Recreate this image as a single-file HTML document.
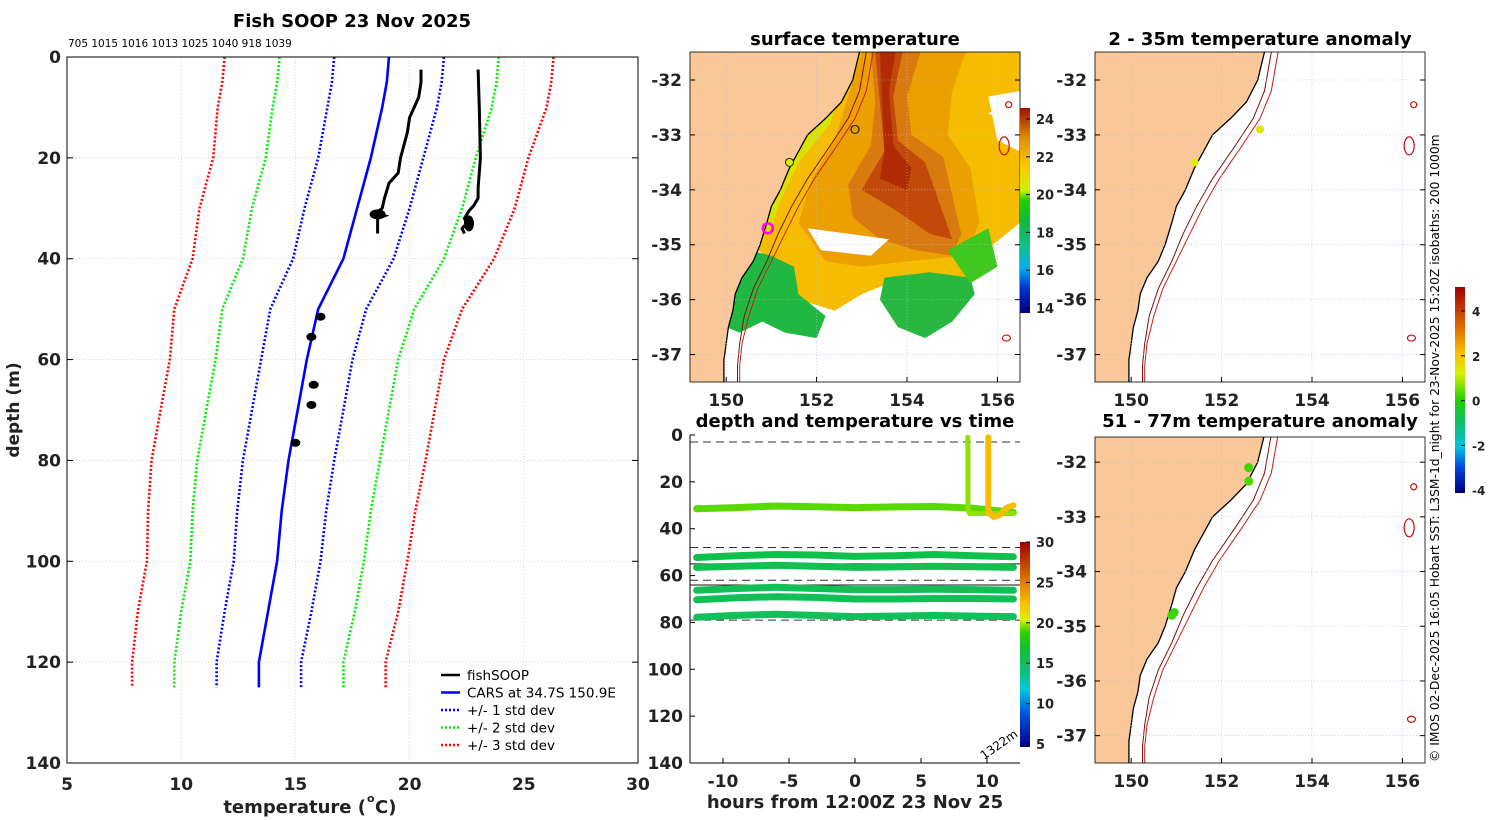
<!DOCTYPE html>
<html><head><meta charset="utf-8"><style>
html,body{margin:0;padding:0;background:#fff;}
svg{display:block;font-family:"DejaVu Sans","Liberation Sans",sans-serif;}
</style></head><body>
<svg id="fig" width="1500" height="820" viewBox="0 0 1500 820" xmlns="http://www.w3.org/2000/svg">
<defs>
<linearGradient id="gSST" x1="0" y1="1" x2="0" y2="0">
<stop offset="0" stop-color="#00007a"/><stop offset="0.12" stop-color="#0030d0"/><stop offset="0.22" stop-color="#00b0f0"/><stop offset="0.32" stop-color="#10c090"/><stop offset="0.45" stop-color="#10b840"/><stop offset="0.55" stop-color="#20d000"/><stop offset="0.6" stop-color="#d0f000"/><stop offset="0.72" stop-color="#f8c800"/><stop offset="0.85" stop-color="#e09000"/><stop offset="1" stop-color="#a01000"/>
</linearGradient>
<linearGradient id="gDT" x1="0" y1="1" x2="0" y2="0">
<stop offset="0" stop-color="#00008a"/><stop offset="0.16" stop-color="#0050e0"/><stop offset="0.28" stop-color="#00c8e0"/><stop offset="0.36" stop-color="#10c080"/><stop offset="0.48" stop-color="#10c030"/><stop offset="0.56" stop-color="#30d000"/><stop offset="0.62" stop-color="#d8f000"/><stop offset="0.7" stop-color="#f8c000"/><stop offset="0.8" stop-color="#e08000"/><stop offset="0.9" stop-color="#c04000"/><stop offset="1" stop-color="#a00000"/>
</linearGradient>
<linearGradient id="gAN" x1="0" y1="1" x2="0" y2="0">
<stop offset="0" stop-color="#00007a"/><stop offset="0.12" stop-color="#0040e0"/><stop offset="0.22" stop-color="#00c0e0"/><stop offset="0.35" stop-color="#10c060"/><stop offset="0.45" stop-color="#20d000"/><stop offset="0.58" stop-color="#d8f000"/><stop offset="0.68" stop-color="#f8c000"/><stop offset="0.8" stop-color="#e07000"/><stop offset="1" stop-color="#a00000"/>
</linearGradient>
</defs>
</svg>
<script>
// ---------- Left profile chart data ----------
const profDepth = [0,5,10,20,30,40,50,60,70,80,90,100,110,120,125];
const carsMean  = [19.1,19.0,18.8,18.3,17.7,17.1,16.0,15.5,15.1,14.7,14.4,14.2,13.8,13.4,13.4];
const carsStd   = [2.4,2.4,2.4,2.3,2.3,2.2,2.1,2.0,2.0,2.0,1.95,1.9,1.9,1.85,1.85];
const fish1Depth = [2.5,5,8,12,15,20,23,25,28,30,31,31.5,32,33,35];
const fish1Temp  = [20.5,20.5,20.4,20.0,19.9,19.6,19.5,19.1,18.9,18.8,18.5,18.9,18.6,18.6,18.6];
const fish2Depth = [2.5,10,20,26,28,29.5,30.5,32,33,34,35];
const fish2Temp  = [23.0,23.05,23.1,23.0,23.0,22.8,22.6,22.4,22.5,22.3,22.4];
const blobDepth = [51.5,55.5,65,69,76.5];
const blobTemp  = [16.1,15.7,15.8,15.7,15.0];
const xTicksL = [5,10,15,20,25,30];
const yTicksL = [0,20,40,60,80,100,120,140];
const serialLabels = "705 1015 1016 1013 1025 1040 918 1039";

// ---------- Time chart data ----------
const tHours = [-12,-9,-6,-3,0,3,6,9,12];
const trackDepths = [
  [31.5,31,30.3,30.6,31,30.7,30.5,31.3,33],
  [52.3,51.5,51,51.2,51.8,51.5,51,51.5,52],
  [56.5,56,55.6,56,56.5,56.3,56,56.2,56.5],
  [66.3,65.5,65,65.5,66,66,65.8,66,66.3],
  [70.3,69.5,69,69.3,70,70,69.8,69.8,70],
  [77.8,77,76.5,77,77.5,77.3,77,77.3,77.5]
];
const trackTemps = [19.3,16.4,16.2,16.0,15.9,15.8];
const spike1Hours = [8.55,8.55,8.7,12];
const spike1Depth = [1,32,33.5,33.5];
const spike2Hours = [10.1,10.1,10.5,11,11.5,12];
const spike2Depth = [1,33,35,34,31,30];
const spikeTemps = [19.8,22.6];
const dashDepths = [3,48,62,79];
const solidDepths = [55,64];
const xTicksT = [-10,-5,0,5,10];
const yTicksT = [0,20,40,60,80,100,120,140];

// ---------- Maps data ----------
const coastLon = [152.95,152.8,152.55,152.2,151.8,151.6,151.4,151.2,151.0,150.9,150.75,150.6,150.35,150.2,150.15,150.05,150.0,149.95,149.95];
const coastLat = [-31.49,-32.0,-32.4,-32.7,-33.0,-33.3,-33.6,-34.0,-34.3,-34.6,-35.0,-35.3,-35.6,-35.9,-36.2,-36.5,-36.8,-37.1,-37.5];
const iso200Lon = [153.1,152.95,152.7,152.3,151.8,151.45,151.15,150.9,150.6,150.4,150.3,150.25,150.25];
const iso1000Lon = [153.25,153.1,152.85,152.45,151.95,151.6,151.3,151.0,150.7,150.5,150.35,150.3,150.3];
const isoLat = [-31.49,-32.2,-32.7,-33.2,-33.8,-34.3,-34.8,-35.3,-35.8,-36.3,-36.8,-37.2,-37.5];
const lonTicks = [150,152,154,156];
const latTicks = [-32,-33,-34,-35,-36,-37];
const topDotsLon = [151.4,152.85];
const topDotsLat = [-33.5,-32.9];
const topDotsAnom = [1.2,1.4];
const botDotsLon = [152.6,152.6,150.95,150.9];
const botDotsLat = [-32.1,-32.35,-34.75,-34.8];
const botDotsAnom = [0.2,0.3,0.1,0.2];

const NS='http://www.w3.org/2000/svg';
const svg=document.getElementById('fig');
function mk(tag,at,parent){const e=document.createElementNS(NS,tag);for(const k in at)e.setAttribute(k,at[k]);(parent||svg).appendChild(e);return e;}
function txt(s,x,y,size,opts,parent){const e=mk('text',Object.assign({x:x,y:y,'font-size':size,fill:'#222'},opts||{}),parent);e.textContent=s;return e;}
function lerpColor(stops,v){for(let i=0;i<stops.length-1;i++){if(v<=stops[i+1][0]){const f=(v-stops[i][0])/(stops[i+1][0]-stops[i][0]);const a=stops[i][1],b=stops[i+1][1];const c=[0,1,2].map(j=>Math.round(a[j]+(b[j]-a[j])*Math.max(0,Math.min(1,f))));return 'rgb('+c.join(',')+')';}}return 'rgb('+stops[stops.length-1][1].join(',')+')';}
const dtStops=[[5,[0,0,138]],[9,[0,80,224]],[12,[0,200,224]],[14,[16,192,128]],[17,[16,192,64]],[19,[60,210,0]],[20.5,[216,240,0]],[22.5,[248,192,0]],[25,[224,128,0]],[30,[160,0,0]]];
const anStops=[[-4,[0,0,122]],[-2,[0,192,224]],[0,[32,208,0]],[1.2,[216,240,0]],[2,[248,192,0]],[5,[160,0,0]]];

// ===== LEFT PANEL =====
const L={x0:67,y0:57,x1:638,y1:763};
const xL=t=>L.x0+(t-5)*(L.x1-L.x0)/25;
const yL=d=>L.y0+d*(L.y1-L.y0)/140;
const gL=mk('g',{});


xTicksL.forEach(t=>{const g=mk('line',{x1:xL(t),x2:xL(t),y1:L.y0,y2:L.y1,stroke:'#c8c8e0','stroke-width':0.7,'stroke-dasharray':'1,2'},gL);


const l=txt(t,xL(t),790,17,{'text-anchor':'middle','font-weight':'bold'},gL);

});
yTicksL.forEach(d=>{const g=mk('line',{x1:L.x0,x2:L.x1,y1:yL(d),y2:yL(d),stroke:'#d0c0c0','stroke-width':0.7,'stroke-dasharray':'1,2'},gL);


mk('line',{x1:L.x0,x2:L.x0+6,y1:yL(d),y2:yL(d),stroke:'#000'},gL);
mk('line',{x1:L.x1,x2:L.x1-6,y1:yL(d),y2:yL(d),stroke:'#000'},gL);
const l=txt(d,61,yL(d)+6,17,{'text-anchor':'end','font-weight':'bold'},gL);

});
function pathFrom(xs,ys){return xs.map((x,i)=>(i?'L':'M')+x.toFixed(1)+','+ys[i].toFixed(1)).join('');}
const stdCols=[['#0000ff',1],['#00ee00',2],['#ff0000',3]];
stdCols.forEach(([c,k])=>{[-1,1].forEach(s=>{const p=mk('path',{d:pathFrom(profDepth.map((d,i)=>xL(carsMean[i]+s*k*carsStd[i])),profDepth.map(yL)),fill:'none',stroke:c,'stroke-width':2.6,'stroke-dasharray':'2,2'},gL);

});});
const cars=mk('path',{d:pathFrom(carsMean.map(xL),profDepth.map(yL)),fill:'none',stroke:'#0000ff','stroke-width':2.6},gL);


const f1=mk('path',{d:pathFrom(fish1Temp.map(xL),fish1Depth.map(yL)),fill:'none',stroke:'#000','stroke-width':3},gL);


const f2=mk('path',{d:pathFrom(fish2Temp.map(xL),fish2Depth.map(yL)),fill:'none',stroke:'#000','stroke-width':3},gL);


mk('ellipse',{cx:xL(18.6),cy:yL(31.2),rx:8,ry:5,fill:'#000'},gL);
mk('ellipse',{cx:xL(22.6),cy:yL(33),rx:5,ry:8,fill:'#000'},gL);
blobDepth.forEach((d,i)=>{const e=mk('ellipse',{cx:xL(blobTemp[i]),cy:yL(d),rx:5,ry:4,fill:'#000'},gL);

});
mk('rect',{x:L.x0,y:L.y0,width:L.x1-L.x0,height:L.y1-L.y0,fill:'none',stroke:'#000','stroke-width':1},gL);
const t1=txt('Fish SOOP 23 Nov 2025',352,27,18,{'text-anchor':'middle','font-weight':'bold','fill':'#000'});


const sl=txt(serialLabels,68,47,10.5,{fill:'#000'});


const yt=txt('depth (m)',19,410,17,{'text-anchor':'middle','font-weight':'bold',transform:'rotate(-90 19 410)'});


const xt=txt('temperature (',366,813,18,{'text-anchor':'end','font-weight':'bold'});


txt('o',367,802,11,{'font-weight':'bold'});txt('C)',375,813,18,{'font-weight':'bold'});
// legend
const lg=mk('g',{});


mk('rect',{x:437,y:664,width:200,height:98,fill:'#fff',stroke:'#fff'},lg);
[['fishSOOP','#000',''],['CARS at 34.7S 150.9E','#0000ff',''],['+/- 1 std dev','#0000ff','2,2'],['+/- 2 std dev','#00ee00','2,2'],['+/- 3 std dev','#ff0000','2,2']].forEach((e,i)=>{const y=675+i*17.5;
const ln=mk('line',{x1:441,x2:460,y1:y,y2:y,stroke:e[1],'stroke-width':2.6,'stroke-dasharray':e[2]||'none'},lg);


const tt=txt(e[0],467,y+5,13.5,{fill:'#000'},lg);

});

// ===== MAP PANELS =====
function makeMap(P,name){
 const g=mk('g',{});
 
 
 const X=lon=>P.x0+(lon-149.2)*(P.x1-P.x0)/(156.5-149.2);
 const Y=lat=>P.y0+(P.latTop-lat)*(P.y1-P.y0)/(P.latTop-P.latBot);
 const clipId='clip'+name;
 const cp=mk('clipPath',{id:clipId},g);mk('rect',{x:P.x0,y:P.y0,width:P.x1-P.x0,height:P.y1-P.y0},cp);
 const inner=mk('g',{'clip-path':'url(#'+clipId+')'},g);
 return {g,inner,X,Y};
}
function poly(M,pts,fill,parent,name){const e=mk('polygon',{points:pts.map(p=>M.X(p[0]).toFixed(1)+','+M.Y(p[1]).toFixed(1)).join(' '),fill:fill},parent||M.inner);

return e;}
function drawLandAndIso(M){
 const landPts=[[149.0,-31.4]].concat(coastLon.map((l,i)=>[l,coastLat[i]])).concat([[149.95,-37.6],[149.0,-37.6]]);
 poly(M,landPts,'#fac898',M.inner,'land');
 const cl=mk('path',{d:pathFrom(coastLon.map(M.X),coastLat.map(M.Y)),fill:'none',stroke:'#000','stroke-width':1.3},M.inner);
 
 
 [iso200Lon,iso1000Lon].forEach((arr,k)=>{const p=mk('path',{d:pathFrom(arr.map(M.X),isoLat.map(M.Y)),fill:'none',stroke:k?'#c02020':'#7a1010','stroke-width':1},M.inner);
 
 });
 [[156.15,-33.2,5,9],[156.25,-32.45,3,3],[156.2,-36.7,4,3]].forEach(a=>{mk('ellipse',{cx:M.X(a[0]),cy:M.Y(a[1]),rx:a[2],ry:a[3],fill:'none',stroke:'#c01010','stroke-width':1.2},M.inner);});
}
function axesMap(M,P,showX){
 lonTicks.forEach(l=>{mk('line',{x1:M.X(l),x2:M.X(l),y1:P.y0,y2:P.y1,stroke:'#b8b8d8','stroke-width':0.6,'stroke-dasharray':'1,2'},M.g);
 mk('line',{x1:M.X(l),x2:M.X(l),y1:P.y1,y2:P.y1-5,stroke:'#000'},M.g);
 if(showX){const t=txt(l,M.X(l),P.y1+24,17,{'text-anchor':'middle','font-weight':'bold'},M.g);
 
 }});
 latTicks.forEach(l=>{mk('line',{x1:P.x0,x2:P.x1,y1:M.Y(l),y2:M.Y(l),stroke:'#b8b8d8','stroke-width':0.6,'stroke-dasharray':'1,2'},M.g);
 mk('line',{x1:P.x0,x2:P.x0+5,y1:M.Y(l),y2:M.Y(l),stroke:'#000'},M.g);
 mk('line',{x1:P.x1,x2:P.x1-5,y1:M.Y(l),y2:M.Y(l),stroke:'#000'},M.g);
 const t=txt(l,P.x0-8,M.Y(l)+6,17,{'text-anchor':'end','font-weight':'bold'},M.g);
 
 });
 mk('rect',{x:P.x0,y:P.y0,width:P.x1-P.x0,height:P.y1-P.y0,fill:'none',stroke:'#000','stroke-width':0.8},M.g);
}
// --- SST map ---
const P1={x0:690,y0:52,x1:1020,y1:382,latTop:-31.49,latBot:-37.5};
const M1=makeMap(P1,'surface-temperature-map');
poly(M1,[[152.9,-31.49],[156.5,-31.49],[156.5,-32.4],[155.8,-32.6],[156.5,-33.0],[156.5,-34.6],[155.9,-35.0],[155.6,-35.5],[155.0,-35.7],[153.9,-35.6],[153.0,-35.9],[152.4,-36.2],[151.6,-36.0],[151.2,-35.4],[150.7,-35.1],[150.9,-34.5],[151.3,-33.8],[152.0,-32.9],[152.6,-32.2]],'#f5bc00');
poly(M1,[[153.0,-31.49],[155.3,-31.49],[155.0,-32.2],[154.9,-33.0],[155.4,-33.6],[155.6,-34.6],[155.3,-35.2],[154.0,-35.3],[153.0,-35.4],[152.2,-35.3],[151.6,-34.6],[151.9,-33.8],[152.4,-33.1]],'#eca000');
poly(M1,[[153.2,-31.49],[154.3,-31.49],[154.0,-32.3],[154.1,-33.0],[154.8,-33.4],[155.0,-34.1],[155.2,-34.8],[155.0,-35.2],[154.2,-35.1],[153.4,-34.9],[152.8,-34.5],[152.7,-33.9],[153.2,-33.2],[153.3,-32.4]],'#d97a10');
poly(M1,[[153.3,-31.49],[153.9,-31.49],[153.7,-32.3],[153.8,-33.1],[154.4,-33.5],[154.7,-34.2],[155.0,-34.9],[154.5,-34.8],[153.8,-34.4],[153.0,-34.0],[153.5,-33.3],[153.4,-32.4]],'#c24a08');
poly(M1,[[153.4,-31.49],[153.75,-31.49],[153.6,-32.2],[153.7,-33.2],[154.1,-33.6],[154.0,-34.0],[153.4,-33.8],[153.5,-33.3],[153.45,-32.4]],'#b02a04');
poly(M1,[[152.0,-31.9],[152.6,-32.0],[152.3,-32.8],[151.6,-33.5],[151.2,-34.2],[150.95,-34.8],[150.8,-34.5],[151.2,-33.7],[151.7,-33.0]],'#d8e400');
poly(M1,[[150.5,-35.1],[151.0,-35.2],[151.5,-35.4],[151.6,-35.9],[152.2,-36.3],[152.0,-36.7],[151.3,-36.6],[150.8,-36.4],[150.3,-36.6],[150.0,-36.5],[150.15,-35.9]],'#20b840');
poly(M1,[[153.5,-35.6],[154.5,-35.5],[155.4,-35.6],[155.5,-35.9],[155.0,-36.4],[154.4,-36.7],[153.8,-36.5],[153.4,-36.0]],'#28b840');
poly(M1,[[154.9,-35.1],[155.8,-34.7],[156.0,-35.4],[155.4,-35.7]],'#40c820');
poly(M1,[[151.8,-34.7],[153.6,-34.9],[153.2,-35.2],[152.1,-35.1]],'#ffffff');
poly(M1,[[155.8,-32.3],[156.5,-32.2],[156.5,-33.3],[156.0,-33.1]],'#ffffff');
drawLandAndIso(M1);
mk('circle',{cx:M1.X(150.92),cy:M1.Y(-34.7),r:5,fill:'none',stroke:'#ff00ff','stroke-width':2.5},M1.inner);
mk('circle',{cx:M1.X(152.85),cy:M1.Y(-32.9),r:4,fill:'none',stroke:'#222','stroke-width':1.2},M1.inner);
mk('circle',{cx:M1.X(151.4),cy:M1.Y(-33.5),r:4,fill:'#d0f000',stroke:'#222','stroke-width':1},M1.inner);
axesMap(M1,P1,true);
const tt1=txt('surface temperature',855,45,18,{'text-anchor':'middle','font-weight':'bold','fill':'#000'});


const cb1=mk('rect',{x:1020,y:108,width:10,height:205,fill:'url(#gSST)'});


[24,22,20,18,16,14].forEach((v,i)=>{const y=119+i*37.8;mk('line',{x1:1026,x2:1030,y1:y,y2:y,stroke:'#000'});const t=txt(v,1036,y+5,13,{'font-weight':'bold'});

});

// --- anomaly maps ---
const P2={x0:1095,y0:52,x1:1425,y1:382,latTop:-31.49,latBot:-37.5};
const M2=makeMap(P2,'anomaly-map-2-35m');
drawLandAndIso(M2);
topDotsLon.forEach((l,i)=>{const c=mk('circle',{cx:M2.X(l),cy:M2.Y(topDotsLat[i]),r:4,fill:lerpColor(anStops,topDotsAnom[i])},M2.inner);

});
axesMap(M2,P2,true);
const tt2=txt('2 - 35m temperature anomaly',1260,45,18,{'text-anchor':'middle','font-weight':'bold','fill':'#000'});


const P3={x0:1095,y0:437,x1:1425,y1:763,latTop:-31.54,latBot:-37.5};
const M3=makeMap(P3,'anomaly-map-51-77m');
drawLandAndIso(M3);
botDotsLon.forEach((l,i)=>{const c=mk('circle',{cx:M3.X(l),cy:M3.Y(botDotsLat[i]),r:4.5,fill:lerpColor(anStops,botDotsAnom[i])},M3.inner);

});
axesMap(M3,P3,true);
const tt3=txt('51 - 77m temperature anomaly',1260,427,18,{'text-anchor':'middle','font-weight':'bold','fill':'#000'});


const cb2=mk('rect',{x:1455,y:287,width:10,height:206,fill:'url(#gAN)'});


[4,2,0,-2,-4].forEach((v,i)=>{const y=311+i*44.8;mk('line',{x1:1461,x2:1465,y1:y,y2:y,stroke:'#000'});const t=txt(v,1472,y+5,12,{'font-weight':'bold'});

});
const cr=txt('© IMOS 02-Dec-2025 16:05 Hobart SST: L3SM-1d_night for 23-Nov-2025 15:20Z isobaths: 200  1000m',1439,762,12.3,{fill:'#000',transform:'rotate(-90 1439 762)'});



// ===== TIME CHART =====
const T={x0:690,y0:435,x1:1020,y1:763};
const xT=h=>855+h*13.2;
const yT=d=>T.y0+d*(T.y1-T.y0)/140;
const gT=mk('g',{});


dashDepths.forEach(d=>{const l=mk('line',{x1:T.x0,x2:T.x1,y1:yT(d),y2:yT(d),stroke:'#333','stroke-width':1,'stroke-dasharray':'8,5'},gT);

});
solidDepths.forEach(d=>{const l=mk('line',{x1:T.x0,x2:T.x1,y1:yT(d),y2:yT(d),stroke:'#111','stroke-width':1},gT);

});
trackDepths.forEach((arr,i)=>{const p=mk('path',{d:pathFrom(tHours.map(xT),arr.map(yT)),fill:'none',stroke:lerpColor(dtStops,trackTemps[i]),'stroke-width':7,'stroke-linecap':'round','stroke-linejoin':'round'},gT);

});
const sp1=mk('path',{d:pathFrom(spike1Hours.map(xT),spike1Depth.map(yT)),fill:'none',stroke:lerpColor(dtStops,spikeTemps[0]),'stroke-width':5,'stroke-linecap':'round'},gT);


const sp2=mk('path',{d:pathFrom(spike2Hours.map(xT),spike2Depth.map(yT)),fill:'none',stroke:lerpColor(dtStops,spikeTemps[1]),'stroke-width':6,'stroke-linecap':'round','stroke-linejoin':'round'},gT);


mk('line',{x1:T.x0,x2:T.x0,y1:T.y0,y2:T.y1,stroke:'#000'},gT);
mk('line',{x1:T.x0,x2:T.x1,y1:T.y1,y2:T.y1,stroke:'#000'},gT);
xTicksT.forEach(h=>{mk('line',{x1:xT(h),x2:xT(h),y1:T.y1,y2:T.y1-5,stroke:'#000'},gT);
const t=txt(h,xT(h),787,17,{'text-anchor':'middle','font-weight':'bold'},gT);

});
yTicksT.forEach(d=>{mk('line',{x1:T.x0,x2:T.x0+5,y1:yT(d),y2:yT(d),stroke:'#000'},gT);
const t=txt(d,683,yT(d)+6,17,{'text-anchor':'end','font-weight':'bold'},gT);

});
const tt4=txt('depth and temperature vs time',855,427,18,{'text-anchor':'middle','font-weight':'bold','fill':'#000'});


const xt2=txt('hours from 12:00Z 23 Nov 25',855,808,18,{'text-anchor':'middle','font-weight':'bold'});


const dl=txt('1322m',984,760,12,{fill:'#000',transform:'rotate(-35 984 760)'});


const cb3=mk('rect',{x:1020,y:542,width:10,height:205,fill:'url(#gDT)'});


[30,25,20,15,10,5].forEach((v,i)=>{const y=542+i*40.4;mk('line',{x1:1026,x2:1030,y1:y,y2:y,stroke:'#000'});const t=txt(v,1036,y+5,13,{'font-weight':'bold'});

});
</script>
</body></html>
